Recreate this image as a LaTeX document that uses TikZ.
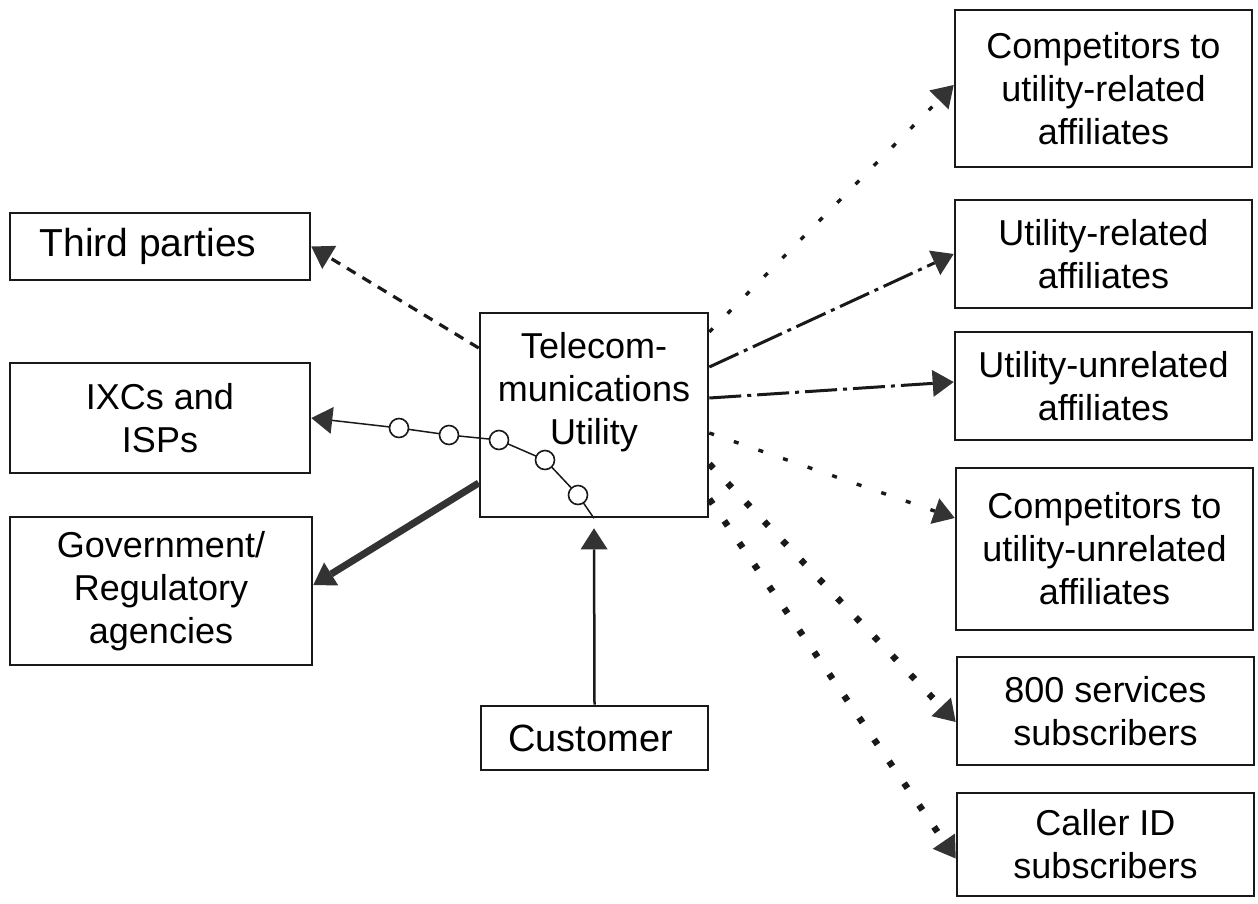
\documentclass[tikz,border=0pt]{standalone}
\usepackage{fontspec}
\setmainfont{Liberation Sans}
\usetikzlibrary{arrows.meta,calc}

\newcommand\boxfont{\fontsize{36}{43}\selectfont}
\newcommand\bigboxfont{\fontsize{39}{45}\selectfont}

\tikzset{
  box/.style={draw=black!90, line width=2.6pt, inner sep=0pt, align=center, font=\boxfont},
  label/.style={inner sep=0pt, align=center, font=\boxfont},
  tip/.style={-{Triangle[length=21pt,width=27pt,line width=0pt,fill=black!80]}},
  link/.style={draw=black!90, tip},
  dashline/.style={link, line width=3.2pt, dash pattern=on 10pt off 8pt},
  dashdotline/.style={link, line width=3pt, dash pattern=on 32pt off 6pt on 4pt off 6pt},
  sparsedots/.style={link, line width=3.4pt, dash pattern=on 5pt off 21pt},
  heavydots/.style={link, line width=6.5pt, dash pattern=on 6pt off 20.5pt},
  heavyline/.style={link, line width=7pt, draw=black!80},
  plainline/.style={link, line width=2.5pt},
  thinline/.style={link, line width=1.5pt},
  ring/.style={circle, draw=black!90, fill=white, line width=1.6pt, minimum size=19pt, inner sep=0pt},
}

\begin{document}
\begin{tikzpicture}[x=1pt, y=-1pt]
  \useasboundingbox (0,0) rectangle (1258,903);

  % left column
  \node[box, font=\bigboxfont, minimum width=300pt, minimum height=67pt] (third) at (160,246.5) {\hspace*{-24pt}Third parties};
  \node[box, minimum width=300pt, minimum height=110pt] (ixc)   at (160,418)   {IXCs and\\ISPs};
  \node[box, minimum width=302pt, minimum height=148pt] (gov)   at (161,591)   {Government/\\Regulatory\\agencies};

  % centre column
  \node[box, minimum width=228pt, minimum height=204pt] (util) at (594,415) {};
  \node[label] (utiltext) at (594,392) {Telecom-\\munications\\Utility};
  \node[box, font=\fontsize{38}{44}\selectfont, minimum width=227pt, minimum height=64pt] (cust) at (594.5,738) {\hspace*{-8pt}Customer};

  % right column
  \node[box, minimum width=297pt, minimum height=157pt] (comp1)  at (1103.5,88.5) {Competitors to\\utility-related\\affiliates};
  \node[box, minimum width=297pt, minimum height=108pt] (urel)   at (1103.5,254)  {Utility-related\\affiliates};
  \node[box, minimum width=297pt, minimum height=108pt] (uunrel) at (1103.5,386)  {Utility-unrelated\\affiliates};
  \node[box, minimum width=297pt, minimum height=162pt] (comp2)  at (1104.5,549)  {Competitors to\\utility-unrelated\\affiliates};
  \node[box, minimum width=297pt, minimum height=108pt] (s800)   at (1105.5,711)  {800 services\\subscribers};
  \node[box, minimum width=297pt, minimum height=103pt] (caller) at (1105.5,844.5) {Caller ID\\subscribers};

  % flows to the left
  \draw[dashline]  ([yshift=67pt]util.west) -- (third.east);
  \draw[heavyline] ([yshift=-68pt]util.west) -- ([yshift=6pt]gov.east);

  % winding link with its stations
  \coordinate (p5) at (578,495);
  \coordinate (p4) at (545,460);
  \coordinate (p3) at (499,440);
  \coordinate (p2) at (449,435);
  \coordinate (p1) at (399,428);
  \draw[thinline] (util.south) -- (p5) -- (p4) -- (p3) -- (p2) -- (p1) -- (ixc.east);
  \foreach \p in {p1,p2,p3,p4,p5} \node[ring] (ring-\p) at (\p) {};

  % customer
  \draw[plainline] (cust.north) -- ([yshift=-10pt]util.south);

  % flows to the right
  \draw[sparsedots]  ([yshift=83pt]util.east)  -- ([yshift=3.5pt]comp1.west);
  \draw[dashdotline] ([yshift=48pt]util.east)  -- (urel.west);
  \draw[dashdotline] ([yshift=17pt]util.east)  -- ([yshift=4pt]uunrel.west);
  \draw[sparsedots]  ([yshift=-18pt]util.east) -- ([yshift=31pt]comp2.west);
  \draw[heavydots]   ([yshift=-49pt]util.east) -- ([yshift=-11pt]s800.west);
  \draw[heavydots]   ([yshift=-84pt]util.east) -- ([yshift=-14pt]caller.west);
\end{tikzpicture}
\end{document}
